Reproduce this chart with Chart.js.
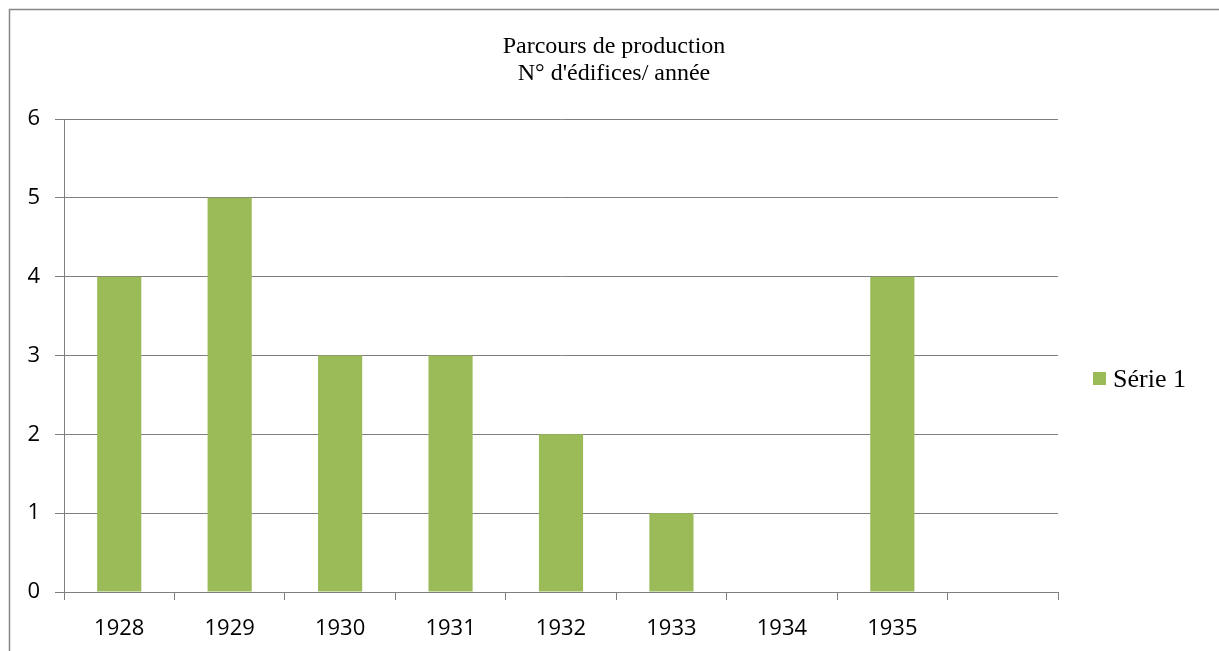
<!DOCTYPE html>
<html>
<head>
<meta charset="utf-8">
<script src="https://cdn.jsdelivr.net/npm/chart.js@4.4.1/dist/chart.umd.min.js"></script>
<style>
  html, body { margin: 0; padding: 0; background: #ffffff; }
  #wrap { width: 1219px; height: 651px; position: relative; }
</style>
</head>
<body>
<div id="wrap"><canvas id="c" width="1219" height="651"></canvas></div>
<script>
// Buildings completed per year
const years = ['1928', '1929', '1930', '1931', '1932', '1933', '1934', '1935', ''];
const seriesName = 'Série 1';
const buildings = [4, 5, 3, 3, 2, 1, 0, 4, null];
const yTicks = [0, 1, 2, 3, 4, 5, 6];
const titleLines = ['Parcours de production', "N° d'édifices/ année"];

const GREEN = '#9BBB59';
const GREY = '#7f7f7f';

// Outer frame of the chart object
const framePlugin = {
  id: 'frame',
  beforeDraw(chart) {
    const ctx = chart.ctx;
    ctx.save();
    ctx.fillStyle = '#ffffff';
    ctx.fillRect(0, 0, chart.width, chart.height);
    ctx.strokeStyle = '#868686';
    ctx.lineWidth = 1.5;
    ctx.strokeRect(9.5, 9.5, chart.width + 50, chart.height + 50);
    ctx.restore();
  }
};

// Two-line serif title and the legend on the right
const textPlugin = {
  id: 'texts',
  afterDraw(chart) {
    const ctx = chart.ctx;
    ctx.save();
    ctx.fillStyle = '#000000';
    ctx.textAlign = 'center';
    ctx.textBaseline = 'alphabetic';
    ctx.font = '24px "Liberation Serif", "Times New Roman", serif';
    ctx.fillText(titleLines[0], 614, 53);
    ctx.fillText(titleLines[1], 614, 80);

    const ds = chart.data.datasets[0];
    ctx.fillStyle = ds.backgroundColor;
    ctx.fillRect(1093, 372, 13, 13);
    ctx.fillStyle = '#000000';
    ctx.textAlign = 'left';
    ctx.font = '26px "Liberation Serif", "Times New Roman", serif';
    ctx.fillText(ds.label, 1113, 387);
    ctx.restore();
  }
};

new Chart(document.getElementById('c'), {
  type: 'bar',
  data: {
    labels: years,
    datasets: [{
      label: seriesName,
      data: buildings,
      backgroundColor: GREEN,
      borderWidth: 0,
      barPercentage: 0.4,
      categoryPercentage: 1.0
    }]
  },
  options: {
    responsive: false,
    animation: false,
    events: [],
    layout: { padding: { left: 0, top: 119, right: 161, bottom: 0 } },
    plugins: {
      legend: { display: false },
      title: { display: false },
      tooltip: { enabled: false }
    },
    scales: {
      x: {
        offset: true,
        grid: {
          offset: true,
          drawOnChartArea: false,
          drawTicks: true,
          tickLength: 8,
          color: GREY,
          lineWidth: 1
        },
        border: { display: true, color: GREY, width: 1 },
        ticks: {
          color: '#000000',
          font: { family: '"Open Sans", sans-serif', size: 22 },
          padding: 16,
          maxRotation: 0,
          autoSkip: false
        },
        afterFit(scale) { scale.height = 59; }
      },
      y: {
        min: 0,
        max: 6,
        afterBuildTicks(scale) { scale.ticks = yTicks.map(v => ({ value: v })); },
        grid: {
          drawTicks: true,
          tickLength: 9,
          color: GREY,
          lineWidth: 1
        },
        border: { display: true, color: GREY, width: 1 },
        ticks: {
          color: '#000000',
          font: { family: '"Open Sans", sans-serif', size: 22 },
          padding: 15
        },
        afterFit(scale) { scale.width = 64; }
      }
    }
  },
  plugins: [framePlugin, textPlugin]
});
</script>
</body>
</html>
